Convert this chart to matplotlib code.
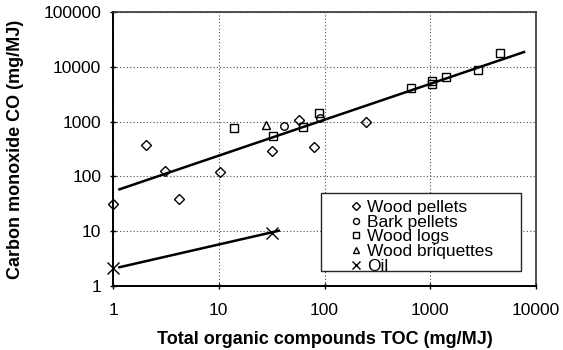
import numpy as np
import matplotlib
matplotlib.use("Agg")
import matplotlib.pyplot as plt
from matplotlib.patches import Rectangle
from matplotlib.ticker import FixedLocator, FixedFormatter, NullLocator

plt.rcParams['font.family'] = ['Liberation Sans', 'DejaVu Sans']

# values (mg/MJ)
pellets_toc = [1.0, 2.05, 3.1, 4.2, 10.2, 32, 58, 79, 245]
pellets_co = [32, 380, 125, 38, 120, 290, 1050, 345, 1000]

bark_toc = [41, 90]
bark_co = [830, 1180]

logs_toc = [13.9, 32.5, 62, 88, 660, 1050, 1050, 1420, 2850, 4600]
logs_co = [750, 540, 800, 1450, 4150, 4800, 5600, 6500, 8700, 17800]

briq_toc = [28]
briq_co = [880]

oil_toc = [1.0, 32]
oil_co = [2.1, 9.2]

# trend lines, end points as drawn
trend_wood_toc = [1.15, 7700]
trend_wood_co = [58, 18600]
trend_oil_toc = [1.15, 37]
trend_oil_co = [2.2, 10.2]

decade_ticks = [1, 10, 100, 1000, 10000, 100000]
decade_labels = ['1', '10', '100', '1000', '10000', '100000']

fig = plt.figure(figsize=(5.63, 3.5), dpi=100)
ax = fig.add_axes([113 / 563, 64 / 350, 423 / 563, 274 / 350])
ax.set_xscale('log')
ax.set_yscale('log')
ax.set_xlim(1, 10000)
ax.set_ylim(1, 100000)

ax.xaxis.set_major_locator(FixedLocator(decade_ticks[:5]))
ax.xaxis.set_major_formatter(FixedFormatter(decade_labels[:5]))
ax.yaxis.set_major_locator(FixedLocator(decade_ticks))
ax.yaxis.set_major_formatter(FixedFormatter(decade_labels))
ax.xaxis.set_minor_locator(NullLocator())
ax.yaxis.set_minor_locator(NullLocator())

ax.grid(True, which='major', color='0.3', linestyle=(0, (1, 2)), linewidth=0.8)
ax.tick_params(direction='inout', length=5, width=1, labelsize=12.5)
ax.tick_params(axis='x', pad=10)
ax.tick_params(axis='y', pad=6)

for s in ['left', 'bottom']:
    ax.spines[s].set_linewidth(1.4)
    ax.spines[s].set_color('black')
for s in ['top', 'right']:
    ax.spines[s].set_linewidth(1.2)
    ax.spines[s].set_color('0.2')

ax.plot(trend_wood_toc, trend_wood_co, color='black', lw=1.8, zorder=2)
ax.plot(trend_oil_toc, trend_oil_co, color='black', lw=1.8, zorder=2)

mk = dict(linestyle='none', markerfacecolor='none', markeredgecolor='black',
          markeredgewidth=1.0, zorder=3, clip_on=False)
ax.plot(pellets_toc, pellets_co, marker='D', markersize=5.4, label='Wood pellets', **mk)
ax.plot(bark_toc, bark_co, marker='o', markersize=5.4, label='Bark pellets', **mk)
ax.plot(logs_toc, logs_co, marker='s', markersize=5.4, label='Wood logs', **mk)
ax.plot(briq_toc, briq_co, marker='^', markersize=5.7, label='Wood briquettes', **mk)
ax.plot(oil_toc, oil_co, marker='x', markersize=8, label='Oil', **mk)

ax.add_patch(Rectangle((0.492, 0.056), 0.473, 0.284, transform=ax.transAxes,
                       facecolor='white', edgecolor='0.15', linewidth=1.0, zorder=4))
leg = ax.legend(loc='upper left', bbox_to_anchor=(0.56, 0.314), frameon=False,
                fontsize=12.5, handlelength=0.7, handletextpad=0.3, borderpad=0,
                borderaxespad=0, labelspacing=-0.03, markerscale=0.8)
leg.set_zorder(5)

ax.set_xlabel('Total organic compounds TOC (mg/MJ)', fontsize=13,
              fontweight='bold', labelpad=9)
ax.set_ylabel('Carbon monoxide CO (mg/MJ)', fontsize=13, fontweight='bold',
              labelpad=14)

fig.savefig('out.png', dpi=100)
